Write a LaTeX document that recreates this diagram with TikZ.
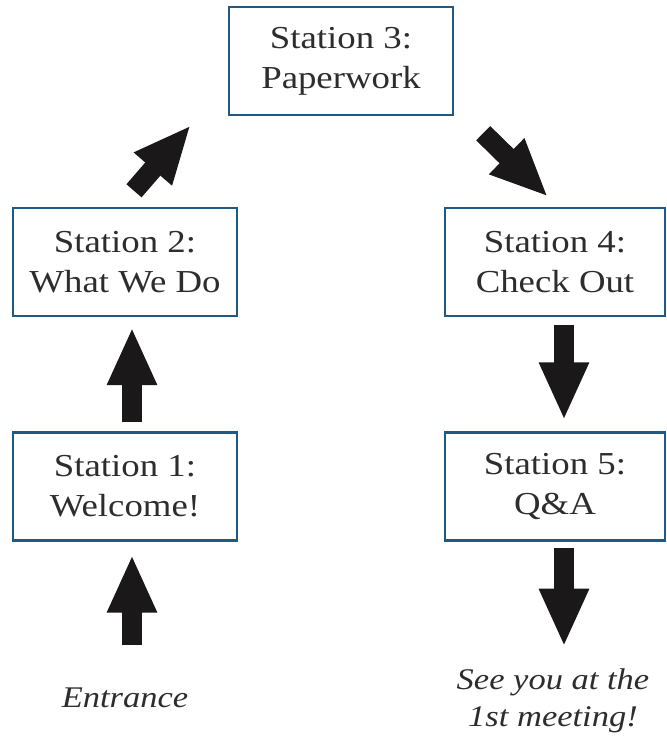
\documentclass[tikz,border=0pt]{standalone}
\usepackage{fontspec}
\setmainfont{Liberation Serif}[FakeStretch=1.15]
\usetikzlibrary{arrows.meta}
\definecolor{boxblue}{RGB}{31,90,133}
\definecolor{ink}{RGB}{45,45,45}
\definecolor{arrowblack}{RGB}{26,24,24}
\begin{document}
\begin{tikzpicture}[x=1pt,y=-1pt,
  station/.style={draw=boxblue, line width=2.4pt, minimum width=224pt, minimum height=108pt,
    align=center, font=\fontsize{32}{40}\selectfont, text=ink, inner sep=0pt},
  caption/.style={align=center, font=\fontsize{30}{37}\selectfont\itshape, text=ink, inner sep=0pt},
  blockarrow/.style={draw=arrowblack, line width=20pt, -{Triangle[width=46pt,length=58pt]}}]
\useasboundingbox (0,0) rectangle (667,740);
\fill[white] (0,0) rectangle (667,740);
\node[station] (s3) at (341,61) {Station 3:\\Paperwork};
\node[station] (s2) at (125,262) {Station 2:\\What We Do};
\node[station] (s1) at (125,486.5) {Station 1:\\Welcome!};
\node[station, minimum width=220pt] (s4) at (555,262) {Station 4:\\Check Out};
\node[station, minimum width=220pt] (s5) at (555,486.5) {Station 5:\\Q\&A};
\node[caption, text height=22pt, text depth=7pt] (ent) at (125,700) {Entrance};
\node[caption] (see) at (553,701) {See you at the\\1st meeting!};
\draw[blockarrow, shorten <=40pt, shorten >=13pt] ([xshift=7pt]ent.north) -- ([xshift=7pt]s1.south);
\draw[blockarrow, shorten <=9pt, shorten >=10pt] ([xshift=7pt]s1.north) -- ([xshift=7pt]s2.south);
\draw[blockarrow] ([xshift=9pt,yshift=16pt]s2.north) -- ([xshift=-37pt,yshift=-9pt]s3.south west);
\draw[blockarrow] ([xshift=29pt,yshift=-17pt]s3.south east) -- ([xshift=-7pt,yshift=10pt]s4.north);
\draw[blockarrow, shorten <=8pt, shorten >=11pt] ([xshift=9pt]s4.south) -- ([xshift=9pt]s5.north);
\draw[blockarrow, shorten <=6pt, shorten >=22pt] ([xshift=9pt]s5.south) -- ([xshift=11pt]see.north);
\end{tikzpicture}
\end{document}
